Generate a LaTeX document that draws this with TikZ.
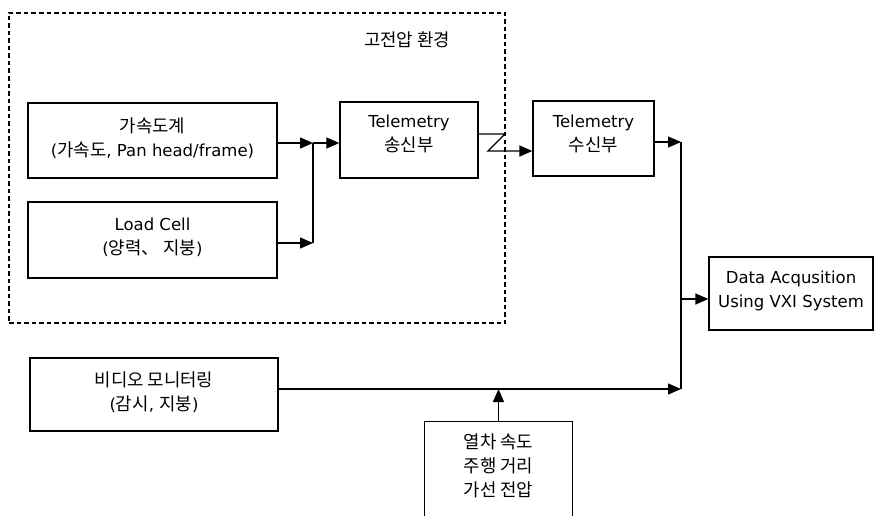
\documentclass[tikz,border=0pt]{standalone}
\usepackage{fontspec}
\setmainfont{DejaVu Sans}
\newfontfamily\kr[Scale=1.08]{Noto Sans CJK KR}
\usetikzlibrary{arrows.meta}
\begin{document}
\begin{tikzpicture}[x=1pt,y=-1pt,
  blk/.style={draw, line width=1.3pt, inner sep=0pt},
  txt/.style={align=center, font=\fontsize{16.5}{24}\selectfont, inner sep=0pt},
  arr/.style={-{Triangle[length=13pt,width=11pt]}, line width=1.3pt},
  wire/.style={line width=1.3pt},
  envbox/.style={draw, line width=1.6pt, dash pattern=on 4.5pt off 3pt, inner sep=0pt}]
\useasboundingbox (0,0) rectangle (877,516);

% high-voltage environment region
\node[envbox, minimum width=496, minimum height=310] (env) at (257,168) {};
\node[txt] (envlabel) at (407,40) {\kr 고전압 환경};

% boxes
\node[blk, minimum width=249, minimum height=75] (acc) at (152.5,140.5) {};
\node[txt] (acctxt) at (152.5,138) {{\kr 가속도계}\\({\kr 가속도}, Pan head/frame)};

\node[blk, minimum width=249, minimum height=76] (load) at (152.5,240) {};
\node[txt] (loadtxt) at (152.5,237) {Load Cell\\({\kr 양력、 지붕})};

\node[blk, minimum width=138, minimum height=76] (tx) at (409,140) {};
\node[txt] (txtxt) at (409,134) {Telemetry\\{\kr 송신부}};

\node[blk, minimum width=121, minimum height=75] (rx) at (593.5,138.5) {};
\node[txt] (rxtxt) at (593.5,134) {Telemetry\\{\kr 수신부}};

\node[blk, minimum width=164, minimum height=73] (daq) at (791,293.5) {};
\node[txt] (daqtxt) at (791,291) {Data Acqusition\\Using VXI System};

\node[blk, minimum width=248, minimum height=73] (video) at (154,394.5) {};
\node[txt] (videotxt) at (154,392.5) {{\kr 비디오 모니터링}\\({\kr 감시}, {\kr 지붕})};

\node[minimum width=147, minimum height=94, inner sep=0pt] (train) at (498.5,469) {};
\draw[wire] (train.south west) -- (train.north west) -- (train.north east) -- (train.south east);
\node[txt] (traintxt) at (498.5,466) {{\kr 열차 속도}\\{\kr 주행 거리}\\{\kr 가선 전압}};

% junction coordinates
\coordinate (j1) at (313,143);
\coordinate (j2) at (313,243);
\coordinate (z1) at (505,134);
\coordinate (z2) at (488,151);
\coordinate (j3) at (681,142);
\coordinate (j5) at (681,299);
\coordinate (j4) at (681,389);

% connectors
\draw[arr] (acc.east |- j1) -- (j1);
\draw[arr] (j1) -- (tx.west |- j1);
\draw[arr] (load.east |- j2) -- (j2);
\draw[wire] (j2) -- (j1);
\draw[arr] (tx.east |- z1) -- (z1) -- (z2) -- (rx.west |- z2);
\draw[arr] (rx.east |- j3) -- (j3);
\draw[wire] (j3) -- (j4);
\draw[arr] (j5) -- (daq.west |- j5);
\draw[arr] (video.east |- j4) -- (j4);
\draw[arr] (train.north) -- (train.north |- j4);
\end{tikzpicture}
\end{document}
